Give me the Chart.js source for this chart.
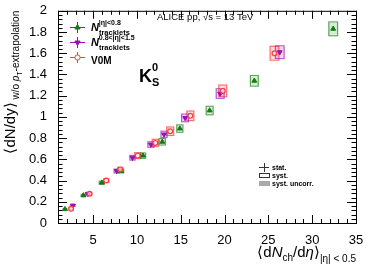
<!DOCTYPE html>
<html>
<head>
<meta charset="utf-8">
<script src="https://cdn.jsdelivr.net/npm/chart.js@4"></script>
<style>
  html, body { margin: 0; padding: 0; background: #fff; }
  #wrap { width: 366px; height: 267px; }
</style>
</head>
<body>
<div id="wrap"><canvas id="kChart" width="366" height="267"></canvas></div>
<script>
// --- data ---
const trk08X = [1.8, 3.9, 6.0, 8.2, 10.7, 12.9, 14.9, 18.3, 23.4, 32.4];
const trk08Y = [0.13, 0.26, 0.38, 0.49, 0.635, 0.765, 0.89, 1.06, 1.34, 1.83];
const trk08SysX = [0.2, 0.25, 0.3, 0.3, 0.3, 0.35, 0.35, 0.4, 0.45, 0.5];
const trk08SysY = [0.006, 0.01, 0.014, 0.018, 0.025, 0.03, 0.035, 0.04, 0.05, 0.065];

const trk15X = [2.7, 4.4, 7.7, 9.5, 11.6, 13.1, 15.5, 19.5, 26.3];
const trk15Y = [0.165, 0.275, 0.49, 0.615, 0.74, 0.835, 0.99, 1.22, 1.61];
const trk15SysX = [0.25, 0.25, 0.3, 0.3, 0.35, 0.35, 0.4, 0.45, 0.5];
const trk15SysY = [0.008, 0.012, 0.018, 0.022, 0.026, 0.03, 0.036, 0.045, 0.06];

const v0mX = [2.5, 4.6, 6.5, 8.1, 10.1, 12.1, 13.8, 16.1, 19.8, 25.7];
const v0mY = [0.135, 0.275, 0.4, 0.505, 0.635, 0.755, 0.865, 1.01, 1.245, 1.60];
const v0mSysX = [0.25, 0.25, 0.3, 0.3, 0.35, 0.35, 0.4, 0.4, 0.45, 0.5];
const v0mSysY = [0.008, 0.012, 0.016, 0.02, 0.028, 0.034, 0.04, 0.045, 0.055, 0.065];

const xTicks = [5, 10, 15, 20, 25, 30, 35];
const yTicks = [0, 0.2, 0.4, 0.6, 0.8, 1, 1.2, 1.4, 1.6, 1.8, 2];

const GREEN = '#117a11', GREEN_BOX = 'rgba(40,140,40,0.75)', GREEN_FILL = 'rgba(40,140,40,0.18)';
const PURPLE = '#9a10b0', PURPLE_BOX = 'rgba(160,40,180,0.75)', PURPLE_FILL = 'rgba(160,40,180,0.18)';
const RED = '#ff3a3a', RED_BOX = 'rgba(255,70,70,0.8)', RED_FILL = 'rgba(255,70,70,0.18)';

const pts = (xs, ys) => xs.map((x, i) => ({ x: x, y: ys[i] }));
const FONT = '"Liberation Sans", Arial, sans-serif';

// draws a run of text pieces: [text, font, dy, extraAdvance]
function richText(ctx, x, y, parts) {
    let cx = x;
    parts.forEach(p => {
        ctx.font = p[1];
        ctx.fillText(p[0], cx, y + (p[2] || 0));
        cx += ctx.measureText(p[0]).width + (p[3] || 0);
    });
    return cx - x;
}
function richWidth(ctx, parts) {
    let w = 0;
    parts.forEach(p => { ctx.font = p[1]; w += ctx.measureText(p[0]).width + (p[3] || 0); });
    return w;
}

const boxesPlugin = {
    id: 'sysBoxes',
    beforeDatasetsDraw(chart) {
        const { ctx, scales: { x, y } } = chart;
        const sets = [
            [v0mX, v0mY, v0mSysX, v0mSysY, RED_BOX, RED_FILL],
            [trk15X, trk15Y, trk15SysX, trk15SysY, PURPLE_BOX, PURPLE_FILL],
            [trk08X, trk08Y, trk08SysX, trk08SysY, GREEN_BOX, GREEN_FILL]
        ];
        ctx.save();
        sets.forEach(s => {
            s[0].forEach((xv, i) => {
                const l = x.getPixelForValue(xv - s[2][i]);
                const r = x.getPixelForValue(xv + s[2][i]);
                const t = y.getPixelForValue(s[1][i] + s[3][i]);
                const b = y.getPixelForValue(s[1][i] - s[3][i]);
                ctx.fillStyle = s[5];
                ctx.fillRect(l, t + 1, r - l, b - t - 2);
                ctx.strokeStyle = s[4];
                ctx.lineWidth = 1.2;
                ctx.strokeRect(l, t, r - l, b - t);
            });
        });
        ctx.restore();
    }
};

const framePlugin = {
    id: 'rootFrame',
    afterDraw(chart) {
        const { ctx, chartArea: a, scales: { x, y } } = chart;
        ctx.save();
        ctx.strokeStyle = '#000';
        ctx.lineWidth = 1;
        ctx.strokeRect(a.left + 0.5, a.top + 0.5, a.right - a.left, a.bottom - a.top);
        // inward ticks on all four sides
        ctx.beginPath();
        for (let v = 1; v <= 35; v++) {
            const px = Math.round(x.getPixelForValue(v)) + 0.5;
            const len = v % 5 === 0 ? 8 : 4;
            ctx.moveTo(px, a.bottom); ctx.lineTo(px, a.bottom - len);
            ctx.moveTo(px, a.top); ctx.lineTo(px, a.top + len);
        }
        for (let k = 0; k <= 50; k++) {
            const v = k * 0.04;
            const py = Math.round(y.getPixelForValue(v)) + 0.5;
            const len = k % 5 === 0 ? 9 : 4.5;
            ctx.moveTo(a.left, py); ctx.lineTo(a.left + len, py);
            ctx.moveTo(a.right, py); ctx.lineTo(a.right - len, py);
        }
        ctx.stroke();

        ctx.fillStyle = '#000';
        ctx.textBaseline = 'alphabetic';

        // x title
        const xt = [
            ['\u27E8d', '15px ' + FONT],
            ['N', 'italic 15px ' + FONT],
            ['ch', '10px ' + FONT, 4],
            ['/d', '15px ' + FONT],
            ['\u03B7', 'italic 15px ' + FONT],
            ['\u27E9', '15px ' + FONT],
            ['|\u03B7| < 0.5', '10px ' + FONT, 5]
        ];
        richText(ctx, a.right - richWidth(ctx, xt), 257, xt);

        // y title, rotated
        const yt = [
            ['\u27E8dN/dy\u27E9', '15px ' + FONT],
            [' w/o ', '10px ' + FONT, 4],
            ['p', 'italic 10px ' + FONT, 4],
            ['T', '7px ' + FONT, 7],
            ['-extrapolation', '10px ' + FONT, 4]
        ];
        ctx.translate(15, a.top);
        ctx.rotate(-Math.PI / 2);
        richText(ctx, -richWidth(ctx, yt), 0, yt);
        ctx.setTransform(1, 0, 0, 1, 0, 0);

        // header
        ctx.font = '9.5px ' + FONT;
        ctx.fillText('ALICE pp, \u221As = 13 TeV', 157, 20);

        // K0S label
        ctx.font = 'bold 18px ' + FONT;
        ctx.fillText('K', 139, 82);
        ctx.font = 'bold 11px ' + FONT;
        ctx.fillText('0', 152, 71);
        ctx.fillText('S', 152, 86);

        // top-left legend
        const leg = [
            [27, GREEN, 'triangle', 0, [['N', 'bold italic 11px ' + FONT], ['tracklets', 'bold 7.5px ' + FONT, 4, -31], ['|\u03B7|<0.8', 'bold 7px ' + FONT, -6]]],
            [42, PURPLE, 'triangle', 180, [['N', 'bold italic 11px ' + FONT], ['tracklets', 'bold 7.5px ' + FONT, 4, -31], ['0.8<|\u03B7|<1.5', 'bold 7px ' + FONT, -6]]],
            [57, RED, 'circle', 0, [['V0M', 'bold 10px ' + FONT, 3]]]
        ];
        leg.forEach(e => {
            const ly = e[0];
            ctx.strokeStyle = e[1];
            ctx.lineWidth = 1;
            ctx.beginPath();
            ctx.moveTo(70, ly + 0.5); ctx.lineTo(85, ly + 0.5);
            ctx.moveTo(77.5, ly - 5); ctx.lineTo(77.5, ly + 6);
            ctx.stroke();
            ctx.fillStyle = e[1];
            if (e[2] === 'circle') {
                ctx.fillStyle = '#fff';
                ctx.beginPath(); ctx.arc(77.5, ly + 0.5, 2.6, 0, Math.PI * 2); ctx.fill(); ctx.stroke();
            } else {
                Chart.helpers.drawPoint(ctx, { pointStyle: 'triangle', radius: 3, rotation: e[3], borderWidth: 1 }, 77.5, ly + 0.5);
                ctx.fill();
            }
            ctx.fillStyle = '#000';
            richText(ctx, 91, ly + 4, e[4]);
        });

        // bottom-right legend
        ctx.strokeStyle = '#333';
        ctx.beginPath();
        ctx.moveTo(259, 167.5); ctx.lineTo(269, 167.5);
        ctx.moveTo(264.5, 163); ctx.lineTo(264.5, 172);
        ctx.stroke();
        ctx.strokeRect(259.5, 173.5, 10, 4);
        ctx.fillStyle = '#aaa';
        ctx.fillRect(259, 181, 11, 5);
        ctx.fillStyle = '#000';
        ctx.font = 'bold 7px ' + FONT;
        ctx.fillText('stat.', 272, 170);
        ctx.fillText('syst.', 272, 178);
        ctx.fillText('syst. uncorr.', 272, 186);
        ctx.restore();
    }
};

const ctx = document.getElementById('kChart').getContext('2d');
new Chart(ctx, {
    type: 'scatter',
    data: {
        datasets: [
            {
                label: 'V0M',
                data: pts(v0mX, v0mY),
                pointStyle: 'circle',
                pointRadius: 2.4,
                borderWidth: 1.2,
                borderColor: RED,
                backgroundColor: 'rgba(255,255,255,0.6)'
            },
            {
                label: 'N tracklets 0.8<|eta|<1.5',
                data: pts(trk15X, trk15Y),
                pointStyle: 'triangle',
                rotation: 180,
                pointRadius: 2.8,
                borderWidth: 1,
                borderColor: PURPLE,
                backgroundColor: PURPLE
            },
            {
                label: 'N tracklets |eta|<0.8',
                data: pts(trk08X, trk08Y),
                pointStyle: 'triangle',
                pointRadius: 2.8,
                borderWidth: 1,
                borderColor: GREEN,
                backgroundColor: GREEN
            }
        ]
    },
    options: {
        responsive: false,
        animation: false,
        layout: { padding: { top: 7, right: 10, left: 0, bottom: 0 } },
        plugins: { legend: { display: false }, tooltip: { enabled: false } },
        scales: {
            x: {
                type: 'linear',
                min: 1,
                max: 35,
                afterBuildTicks: s => { s.ticks = xTicks.map(v => ({ value: v })); },
                afterFit: s => { s.height = 44; },
                grid: { display: false },
                border: { display: false },
                ticks: { color: '#000', padding: 2, font: { family: FONT, size: 13 }, maxRotation: 0, callback: v => String(v) }
            },
            y: {
                type: 'linear',
                min: 0,
                max: 2,
                afterBuildTicks: s => { s.ticks = yTicks.map(v => ({ value: v })); },
                afterFit: s => { s.width = 58; },
                grid: { display: false },
                border: { display: false },
                ticks: { color: '#000', padding: 3, font: { family: FONT, size: 13 }, callback: v => String(Math.round(v * 10) / 10) }
            }
        }
    },
    plugins: [boxesPlugin, framePlugin]
});
</script>
</body>
</html>
